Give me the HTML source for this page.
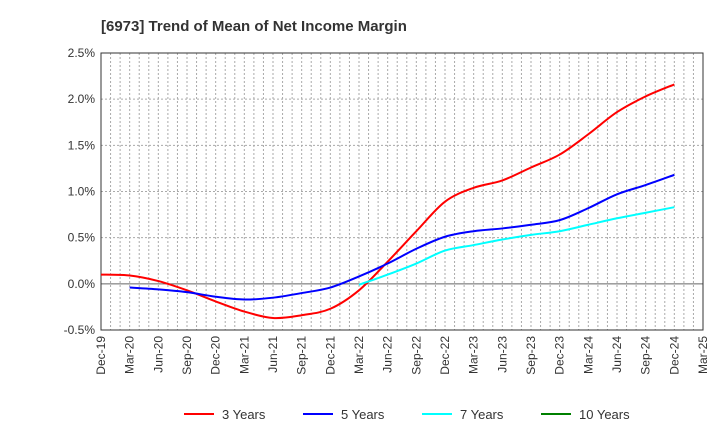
<!DOCTYPE html>
<html><head><meta charset="utf-8"><style>
body{margin:0;background:#fff;font-family:"Liberation Sans",sans-serif;}
svg text{font-family:"Liberation Sans",sans-serif;}
</style></head><body>
<svg width="720" height="440" xmlns="http://www.w3.org/2000/svg">
<text x="101" y="31" font-size="15" font-weight="bold" fill="#333">[6973]  Trend of Mean of Net Income Margin</text>
<g id="grid"></g><g id="axes"></g><g id="series"></g><g id="legend"></g>
</svg>
<script>
const xLabels=["Dec-19","Mar-20","Jun-20","Sep-20","Dec-20","Mar-21","Jun-21","Sep-21","Dec-21","Mar-22","Jun-22","Sep-22","Dec-22","Mar-23","Jun-23","Sep-23","Dec-23","Mar-24","Jun-24","Sep-24","Dec-24","Mar-25"];
const yTicks=[-0.5,0,0.5,1.0,1.5,2.0,2.5];
const s3=[0.10,0.09,0.03,-0.07,-0.19,-0.30,-0.37,-0.34,-0.27,-0.07,0.24,0.57,0.89,1.04,1.12,1.26,1.40,1.62,1.86,2.03,2.16];
const s5=[null,-0.04,-0.06,-0.09,-0.14,-0.17,-0.15,-0.10,-0.04,0.08,0.22,0.38,0.51,0.57,0.60,0.64,0.69,0.82,0.97,1.07,1.18];
const s7=[null,null,null,null,null,null,null,null,null,-0.01,0.10,0.22,0.36,0.42,0.48,0.53,0.57,0.64,0.71,0.77,0.83];
const s10=[];
const NS="http://www.w3.org/2000/svg";
const L=101,R=703,T=53,B=330;
const X=i=>L+i*(R-L)/(xLabels.length-1);
const Y=v=>B-(v+0.5)*(B-T)/3;
function mk(tag,attrs,parent){const e=document.createElementNS(NS,tag);for(const k in attrs)e.setAttribute(k,attrs[k]);parent.appendChild(e);return e;}
const grid=document.getElementById('grid'),axes=document.getElementById('axes'),ser=document.getElementById('series'),leg=document.getElementById('legend');
for(let m=1;m<(xLabels.length-1)*3;m++){const x=L+m*(R-L)/((xLabels.length-1)*3);
const g=mk('line',{x1:x,x2:x,y1:T,y2:B,stroke:'#aaa','stroke-dasharray':'2,2','stroke-width':1},grid);
}
yTicks.forEach(v=>{const y=Y(v);
const g=mk('line',{x1:L,x2:R,y1:y,y2:y,stroke:v===0?'#666':'#aaa','stroke-dasharray':v===0?'none':'2,2','stroke-width':1},grid);

const t=mk('text',{x:L-6,y:y+4,'text-anchor':'end','font-size':12,fill:'#333'},axes);t.textContent=v.toFixed(1)+'%';
});
const fr=mk('rect',{x:L,y:T,width:R-L,height:B-T,fill:'none',stroke:'#333','stroke-width':1},axes);

xLabels.forEach((l,i)=>{const x=X(i);
const t=mk('text',{transform:`translate(${x+4},${B+6}) rotate(-90)`,'text-anchor':'end','font-size':12,fill:'#333'},axes);t.textContent=l;
});
function path(arr){const p=[];arr.forEach((v,i)=>{if(v!==null&&v!==undefined)p.push([X(i),Y(v)]);});
if(p.length<2)return '';let d=`M${p[0][0]},${p[0][1]}`;
for(let i=0;i<p.length-1;i++){const p0=p[Math.max(0,i-1)],p1=p[i],p2=p[i+1],p3=p[Math.min(p.length-1,i+2)];
const c1=[p1[0]+(p2[0]-p0[0])/6,p1[1]+(p2[1]-p0[1])/6],c2=[p2[0]-(p3[0]-p1[0])/6,p2[1]-(p3[1]-p1[1])/6];
d+=`C${c1[0]},${c1[1]} ${c2[0]},${c2[1]} ${p2[0]},${p2[1]}`;}return d;}
const series=[[s3,'#ff0000','3 Years','line-3-years'],[s5,'#0000ff','5 Years','line-5-years'],[s7,'#00ffff','7 Years','line-7-years'],[s10,'#008000','10 Years','line-10-years']];
series.forEach(([a,c,n,nm])=>{const d=path(a);if(!d)return;
const e=mk('path',{d:d,fill:'none',stroke:c,'stroke-width':2},ser);
});
const lx=[184,303,422,541];
series.forEach(([a,c,n,nm],i)=>{
const l=mk('line',{x1:lx[i],x2:lx[i]+30,y1:414,y2:414,stroke:c,'stroke-width':2},leg);

const t=mk('text',{x:lx[i]+38,y:419,'font-size':13,fill:'#333'},leg);t.textContent=n;
});
</script>
</body></html>
